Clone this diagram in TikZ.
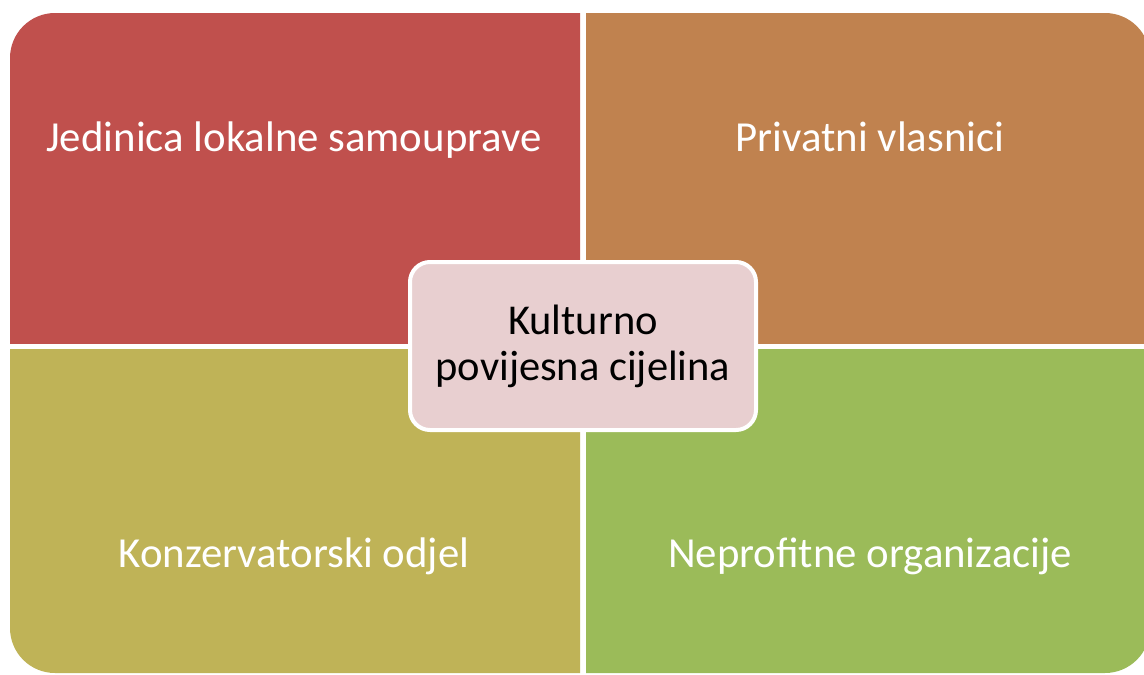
\documentclass[tikz,border=0pt]{standalone}
\usepackage{fontspec}
\setmainfont{Carlito}
\definecolor{cRed}{HTML}{C0504D}
\definecolor{cOrange}{HTML}{C0824F}
\definecolor{cOlive}{HTML}{BFB357}
\definecolor{cGreen}{HTML}{9BBB59}
\definecolor{cCenter}{HTML}{E8CFD0}
\tikzset{
  paneltext/.style={text=white, font=\fontsize{42.8}{46}\selectfont, anchor=base, inner sep=0pt},
  centerbox/.style={draw=white, line width=4pt, fill=cCenter, rounded corners=20pt,
    minimum width=346pt, minimum height=168pt, align=center, text=black,
    font=\fontsize{42.5}{46}\selectfont, inner sep=0pt},
  outer/.style={rounded corners=45pt}
}
\begin{document}
\begin{tikzpicture}[x=1pt,y=-1pt]
\useasboundingbox (0,0) rectangle (1144,675);
\fill[white] (0,0) rectangle (1144,675);
% quadrants: one big rounded shape clipped into four
\begin{scope}
  \clip (0,0) rectangle (580,343);
  \fill[cRed, outer] (10,13) rectangle (1150,673);
\end{scope}
\begin{scope}
  \clip (586,0) rectangle (1144,343);
  \fill[cOrange, outer] (10,13) rectangle (1150,673);
\end{scope}
\begin{scope}
  \clip (0,349) rectangle (580,675);
  \fill[cOlive, outer] (10,13) rectangle (1150,673);
\end{scope}
\begin{scope}
  \clip (586,349) rectangle (1144,675);
  \fill[cGreen, outer] (10,13) rectangle (1150,673);
\end{scope}
\node[paneltext] (tl) at (294,151) {Jedinica lokalne samouprave};
\node[paneltext] (tr) at (870,151) {Privatni vlasnici};
\node[paneltext] (bl) at (294,567) {Konzervatorski odjel};
\node[paneltext] (br) at (870,567) {Neprofitne organizacije};
\node[centerbox] (c) at (583,346) {Kulturno\\povijesna cijelina};
\end{tikzpicture}
\end{document}
